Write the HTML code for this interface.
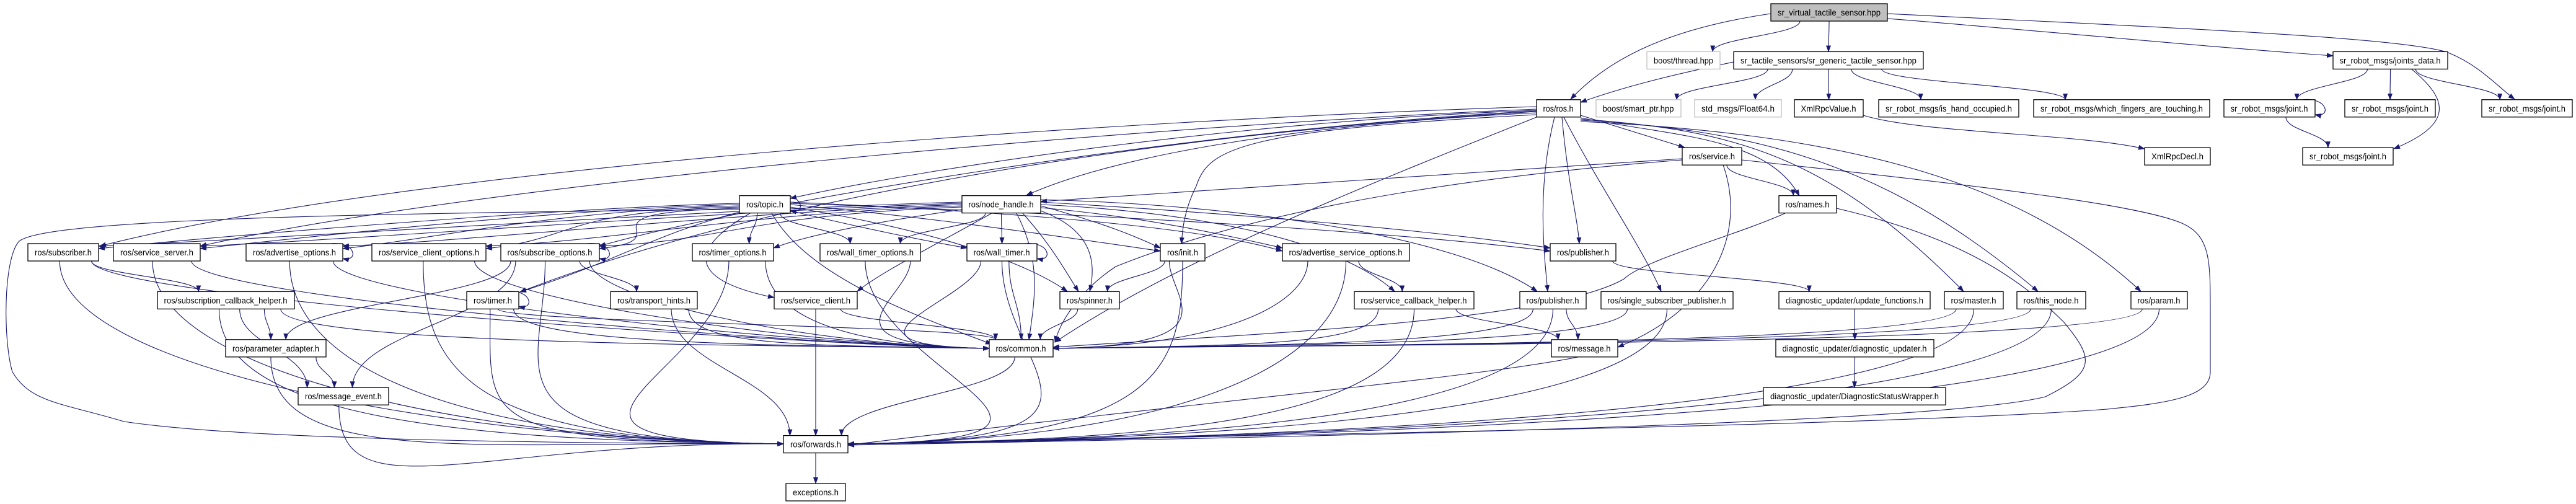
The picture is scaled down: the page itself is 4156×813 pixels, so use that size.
<!DOCTYPE html>
<html><head><meta charset="utf-8"><style>
html,body{margin:0;padding:0;background:#fff;width:4156px;height:813px;overflow:hidden}
svg{display:block}
.n rect{fill:#fff;stroke:#000;stroke-width:1.3}
.n.g rect{stroke:#bfbfbf}
.n.s rect{fill:#bfbfbf}
text{font-family:"Liberation Sans",sans-serif;font-size:13.5px;fill:#000}
path.e{fill:none;stroke:#191970;stroke-width:1.1}
</style></head><body>
<svg id="s" width="4156" height="813" viewBox="0 0 4156 813" xmlns="http://www.w3.org/2000/svg">
<defs><marker id="a" markerWidth="11" markerHeight="8" refX="10" refY="4" orient="auto" markerUnits="userSpaceOnUse"><path d="M0,0 L11,4 L0,8 z" fill="#191970"/></marker></defs>
<g id="E"></g>
<g id="N">
<g class="n s"><rect x="2857" y="6" width="188" height="28"/><text x="2951" y="25" text-anchor="middle">sr_virtual_tactile_sensor.hpp</text></g>
<g class="n g"><rect x="2657" y="83.4" width="118" height="28"/><text x="2716" y="102.4" text-anchor="middle">boost/thread.hpp</text></g>
<g class="n"><rect x="2797" y="83.4" width="306" height="28"/><text x="2950" y="102.4" text-anchor="middle">sr_tactile_sensors/sr_generic_tactile_sensor.hpp</text></g>
<g class="n"><rect x="3764" y="83.4" width="185" height="28"/><text x="3856" y="102.4" text-anchor="middle">sr_robot_msgs/joints_data.h</text></g>
<g class="n"><rect x="2479" y="160.8" width="71" height="28"/><text x="2514" y="179.8" text-anchor="middle">ros/ros.h</text></g>
<g class="n g"><rect x="2575" y="160.8" width="137" height="28"/><text x="2643" y="179.8" text-anchor="middle">boost/smart_ptr.hpp</text></g>
<g class="n g"><rect x="2734" y="160.8" width="140" height="28"/><text x="2804" y="179.8" text-anchor="middle">std_msgs/Float64.h</text></g>
<g class="n"><rect x="2895" y="160.8" width="111" height="28"/><text x="2950" y="179.8" text-anchor="middle">XmlRpcValue.h</text></g>
<g class="n"><rect x="3031" y="160.8" width="226" height="28"/><text x="3144" y="179.8" text-anchor="middle">sr_robot_msgs/is_hand_occupied.h</text></g>
<g class="n"><rect x="3281" y="160.8" width="284" height="28"/><text x="3423" y="179.8" text-anchor="middle">sr_robot_msgs/which_fingers_are_touching.h</text></g>
<g class="n"><rect x="3588" y="160.8" width="147" height="28"/><text x="3661" y="179.8" text-anchor="middle">sr_robot_msgs/joint.h</text></g>
<g class="n"><rect x="3783" y="160.8" width="146" height="28"/><text x="3856" y="179.8" text-anchor="middle">sr_robot_msgs/joint.h</text></g>
<g class="n"><rect x="4004" y="160.8" width="146" height="28"/><text x="4077" y="179.8" text-anchor="middle">sr_robot_msgs/joint.h</text></g>
<g class="n"><rect x="2714" y="238.2" width="96" height="28"/><text x="2762" y="257.2" text-anchor="middle">ros/service.h</text></g>
<g class="n"><rect x="3460" y="238.2" width="106" height="28"/><text x="3513" y="257.2" text-anchor="middle">XmlRpcDecl.h</text></g>
<g class="n"><rect x="3715" y="238.2" width="146" height="28"/><text x="3788" y="257.2" text-anchor="middle">sr_robot_msgs/joint.h</text></g>
<g class="n"><rect x="1193" y="315.6" width="82" height="28"/><text x="1234" y="334.6" text-anchor="middle">ros/topic.h</text></g>
<g class="n"><rect x="1552" y="315.6" width="127" height="28"/><text x="1615" y="334.6" text-anchor="middle">ros/node_handle.h</text></g>
<g class="n"><rect x="2870" y="315.6" width="93" height="28"/><text x="2916" y="334.6" text-anchor="middle">ros/names.h</text></g>
<g class="n"><rect x="45" y="393" width="114" height="28"/><text x="102" y="412" text-anchor="middle">ros/subscriber.h</text></g>
<g class="n"><rect x="183" y="393" width="140" height="28"/><text x="253" y="412" text-anchor="middle">ros/service_server.h</text></g>
<g class="n"><rect x="397" y="393" width="156" height="28"/><text x="475" y="412" text-anchor="middle">ros/advertise_options.h</text></g>
<g class="n"><rect x="600" y="393" width="184" height="28"/><text x="692" y="412" text-anchor="middle">ros/service_client_options.h</text></g>
<g class="n"><rect x="808" y="393" width="159" height="28"/><text x="887" y="412" text-anchor="middle">ros/subscribe_options.h</text></g>
<g class="n"><rect x="1117" y="393" width="131" height="28"/><text x="1182" y="412" text-anchor="middle">ros/timer_options.h</text></g>
<g class="n"><rect x="1323" y="393" width="162" height="28"/><text x="1404" y="412" text-anchor="middle">ros/wall_timer_options.h</text></g>
<g class="n"><rect x="1560" y="393" width="113" height="28"/><text x="1616" y="412" text-anchor="middle">ros/wall_timer.h</text></g>
<g class="n"><rect x="1872" y="393" width="72" height="28"/><text x="1908" y="412" text-anchor="middle">ros/init.h</text></g>
<g class="n"><rect x="2069" y="393" width="205" height="28"/><text x="2171" y="412" text-anchor="middle">ros/advertise_service_options.h</text></g>
<g class="n"><rect x="2501" y="393" width="106" height="28"/><text x="2554" y="412" text-anchor="middle">ros/publisher.h</text></g>
<g class="n"><rect x="254" y="470.4" width="221" height="28"/><text x="364" y="489.4" text-anchor="middle">ros/subscription_callback_helper.h</text></g>
<g class="n"><rect x="753" y="470.4" width="84" height="28"/><text x="795" y="489.4" text-anchor="middle">ros/timer.h</text></g>
<g class="n"><rect x="985" y="470.4" width="140" height="28"/><text x="1055" y="489.4" text-anchor="middle">ros/transport_hints.h</text></g>
<g class="n"><rect x="1249" y="470.4" width="134" height="28"/><text x="1316" y="489.4" text-anchor="middle">ros/service_client.h</text></g>
<g class="n"><rect x="1710" y="470.4" width="96" height="28"/><text x="1758" y="489.4" text-anchor="middle">ros/spinner.h</text></g>
<g class="n"><rect x="2185" y="470.4" width="193" height="28"/><text x="2281" y="489.4" text-anchor="middle">ros/service_callback_helper.h</text></g>
<g class="n"><rect x="2452" y="470.4" width="107" height="28"/><text x="2505" y="489.4" text-anchor="middle">ros/publisher.h</text></g>
<g class="n"><rect x="2583" y="470.4" width="213" height="28"/><text x="2689" y="489.4" text-anchor="middle">ros/single_subscriber_publisher.h</text></g>
<g class="n"><rect x="2870" y="470.4" width="244" height="28"/><text x="2992" y="489.4" text-anchor="middle">diagnostic_updater/update_functions.h</text></g>
<g class="n"><rect x="3137" y="470.4" width="95" height="28"/><text x="3184" y="489.4" text-anchor="middle">ros/master.h</text></g>
<g class="n"><rect x="3254" y="470.4" width="111" height="28"/><text x="3309" y="489.4" text-anchor="middle">ros/this_node.h</text></g>
<g class="n"><rect x="3438" y="470.4" width="91" height="28"/><text x="3483" y="489.4" text-anchor="middle">ros/param.h</text></g>
<g class="n"><rect x="364" y="547.8" width="162" height="28"/><text x="445" y="566.8" text-anchor="middle">ros/parameter_adapter.h</text></g>
<g class="n"><rect x="1596" y="547.8" width="103" height="28"/><text x="1647" y="566.8" text-anchor="middle">ros/common.h</text></g>
<g class="n"><rect x="2503" y="547.8" width="107" height="28"/><text x="2556" y="566.8" text-anchor="middle">ros/message.h</text></g>
<g class="n"><rect x="2865" y="547.8" width="255" height="28"/><text x="2992" y="566.8" text-anchor="middle">diagnostic_updater/diagnostic_updater.h</text></g>
<g class="n"><rect x="481" y="625.2" width="146" height="28"/><text x="554" y="644.2" text-anchor="middle">ros/message_event.h</text></g>
<g class="n"><rect x="2845" y="625.2" width="294" height="28"/><text x="2992" y="644.2" text-anchor="middle">diagnostic_updater/DiagnosticStatusWrapper.h</text></g>
<g class="n"><rect x="1264" y="702.6" width="104" height="28"/><text x="1316" y="721.6" text-anchor="middle">ros/forwards.h</text></g>
<g class="n"><rect x="1268" y="780" width="96" height="28"/><text x="1316" y="799" text-anchor="middle">exceptions.h</text></g>
</g>
</svg>
<script>
var R={};
document.querySelectorAll('#N g').forEach(function(g){var r=g.querySelector('rect'),t=g.querySelector('text');
var x=+r.getAttribute('x'),y=+r.getAttribute('y'),w=+r.getAttribute('width'),h=+r.getAttribute('height');
t.setAttribute('textLength',Math.max(10,w-22));t.setAttribute('lengthAdjust','spacingAndGlyphs');
var k=t.textContent;var nm=k;var i=2;while(R[nm]){nm=k+'#'+i;i++;}R[nm]={x:x,y:y,w:w,h:h};});
var E=document.getElementById('E'),out='';
function P(d){out+='<path class="e" d="'+d+'" marker-end="url(#a)"/>';}
function e(a,b,sx,dx,mode){var A=R[a],B=R[b];if(!A||!B)return;sx=sx==null?0.5:sx;dx=dx==null?0.5:dx;
var x1=A.x+A.w*sx,y1=A.y+A.h,x2,y2;
if(mode=='L'){x2=B.x;y2=B.y+B.h*dx;var k=Math.abs(y2-y1)*0.6+20;P('M'+x1+','+y1+' C'+x1+','+(y1+k)+' '+(x2-Math.abs(x2-x1)*0.4)+','+y2+' '+x2+','+y2);return;}
if(mode=='R'){x2=B.x+B.w;y2=B.y+B.h*dx;var k=Math.abs(y2-y1)*0.6+20;P('M'+x1+','+y1+' C'+x1+','+(y1+k)+' '+(x2+Math.abs(x2-x1)*0.4)+','+y2+' '+x2+','+y2);return;}
if(mode=='SL'){x1=A.x;y1=A.y+A.h*sx;}
if(mode=='SR'){x1=A.x+A.w;y1=A.y+A.h*sx;}
x2=B.x+B.w*dx;y2=B.y;var k=(y2-y1)*0.45;P('M'+x1+','+y1+' C'+x1+','+(y1+k)+' '+x2+','+(y2-k)+' '+x2+','+y2);}
function loop(a){var A=R[a];var r=A.x+A.w,t=A.y,b=A.y+A.h;P('M'+(r-20)+','+t+' C'+(r+22)+','+(t-4)+' '+(r+26)+','+(b+2)+' '+r+','+(b-4));}
// top
P('M2857,22 C2700,45 2600,90 2534,160');
e('sr_virtual_tactile_sensor.hpp','boost/thread.hpp',0.25,0.9);
e('sr_virtual_tactile_sensor.hpp','sr_tactile_sensors/sr_generic_tactile_sensor.hpp',0.5,0.5);
P('M3045,30 C3300,50 3550,75 3764,90');
P('M3045,22 C3500,45 3880,60 3950,85 C4000,105 4030,140 4057,160');
P('M2797,100 C2700,120 2620,140 2550,165');
e('sr_tactile_sensors/sr_generic_tactile_sensor.hpp','boost/smart_ptr.hpp',0.18,0.95);
e('sr_tactile_sensors/sr_generic_tactile_sensor.hpp','std_msgs/Float64.h',0.31,0.7);
e('sr_tactile_sensors/sr_generic_tactile_sensor.hpp','XmlRpcValue.h',0.5,0.5);
e('sr_tactile_sensors/sr_generic_tactile_sensor.hpp','sr_robot_msgs/is_hand_occupied.h',0.62,0.3);
e('sr_tactile_sensors/sr_generic_tactile_sensor.hpp','sr_robot_msgs/which_fingers_are_touching.h',0.78,0.18);
e('sr_robot_msgs/joints_data.h','sr_robot_msgs/joint.h',0.3,0.8);
e('sr_robot_msgs/joints_data.h','sr_robot_msgs/joint.h#2',0.5,0.5);
P('M3890,111 C3950,160 3960,200 3862,240');
e('sr_robot_msgs/joints_data.h','sr_robot_msgs/joint.h#3',0.72,0.2);
loop('sr_robot_msgs/joint.h');
e('sr_robot_msgs/joint.h','sr_robot_msgs/joint.h#4',0.68,0.28);
P('M3006,186 C3100,215 3350,215 3460,240');
// ros.h
P('M2479,172 C1900,190 700,260 161,397');
P('M2479,176 C1900,200 800,290 323,397');
P('M2479,178 C2000,195 1500,270 1275,320');
P('M2479,182 C2100,200 1800,250 1656,315');
P('M2479,185 C2000,210 1950,240 1930,300 C1910,340 1908,370 1906,393');
P('M2479,189 C2200,300 1900,420 1702,552');
P('M2520,189 C2530,300 2545,350 2548,393');
P('M2508,189 C2480,300 2490,400 2497,470');
P('M2523,189 C2580,300 2650,400 2680,470');
P('M2550,186 L2718,238');
P('M2550,190 C2700,220 2850,220 2903,316');
P('M2550,192 C2800,210 2950,250 3168,470');
P('M2550,194 C2850,210 3050,270 3288,470');
P('M2550,196 C2950,215 3250,280 3454,470');
P('M2479,180 C1800,220 1200,330 839,471');
P('M2479,179 C1900,210 1200,330 967,397');
// service.h
P('M2714,256 C2300,285 1900,310 1679,325');
P('M2714,258 C2300,290 2000,350 1800,430 C1740,470 1710,520 1702,552');
e('ros/service.h','ros/names.h',0.75,0.25);
P('M2780,266 C2820,380 2760,500 2610,560');
P('M2810,258 C3200,300 3450,330 3520,360 C3566,380 3566,420 3566,500 L3566,600 C3566,640 3500,650 3400,660 C3000,690 1800,705 1368,716');
// names
P('M2880,344 C2800,380 2650,420 2620,450 C2500,520 2000,540 1699,560');
P('M2963,336 C3150,380 3250,440 3330,520 C3380,580 3380,600 3300,640 C3100,690 1800,710 1368,718');
// node_handle
var NH='ros/node_handle.h';
['ros/subscriber.h','ros/service_server.h','ros/advertise_options.h','ros/service_client_options.h','ros/subscribe_options.h'].forEach(function(t,i){var B=R[t];P('M1552,'+(326+i*2)+' C1200,'+(335+i*3)+' '+(B.x+B.w+200)+','+(390)+' '+(B.x+B.w)+','+(B.y+4));});
P('M1552,338 C1400,360 1300,380 1248,400');
e(NH,'ros/wall_timer_options.h',0.3,0.8,'');
e(NH,'ros/wall_timer.h',0.5,0.5);
P('M1679,332 C1780,360 1830,380 1872,400');
P('M1679,335 C1850,350 1980,380 2069,400');
P('M1679,326 C2000,345 2300,370 2501,400');
P('M1679,322 C2000,330 2350,380 2480,470');
P('M1679,340 C1760,370 1770,420 1758,470');
P('M1650,344 C1700,400 1720,440 1740,470');
P('M1640,344 C1680,420 1670,480 1660,548');
P('M1600,344 C1500,400 1420,440 1383,470');
P('M1679,330 C1900,340 2150,380 2250,470');
// topic
loop('ros/topic.h');
['ros/subscriber.h','ros/service_server.h','ros/advertise_options.h','ros/service_client_options.h','ros/subscribe_options.h'].forEach(function(t,i){var B=R[t];P('M1193,'+(328+i*2)+' C900,'+(335+i*2)+' '+(B.x+B.w+150)+','+(385)+' '+(B.x+B.w)+','+(B.y+8));});
e('ros/topic.h','ros/timer_options.h',0.35,0.7);
e('ros/topic.h','ros/wall_timer_options.h',0.8,0.3);
P('M1210,344 C1080,420 1150,460 1249,480');
P('M1245,344 C1300,440 1450,500 1600,555');
P('M1193,338 C400,345 60,360 30,390 C5,420 5,550 20,600 C50,650 100,650 200,680 C400,710 900,715 1264,716');
P('M1275,330 C1500,350 1700,380 1872,405');
P('M1275,334 C1500,370 1650,420 1722,470');
P('M1275,326 C1700,345 1950,370 2069,405');
P('M1275,328 C1900,350 2300,380 2501,405');
P('M1275,340 C1400,370 1500,390 1560,400');
P('M1193,342 C1050,380 1000,420 839,471');
// row6 sources
var F='ros/forwards.h';
function toF(s,sx){var A=R[s];var x1=A.x+A.w*(sx||0.5),y1=A.y+A.h;var B=R[F];var left=x1<1300;var x2=left?B.x:B.x+B.w;var y2=716;P('M'+x1+','+y1+' C'+x1+','+(y1+180)+' '+(left?x2-500:x2+500)+','+(y2-5)+' '+x2+','+y2);}
function toC(s,sx){var A=R[s];var x1=A.x+A.w*(sx||0.5),y1=A.y+A.h;var B=R['ros/common.h'];var left=x1<1640;var x2=left?B.x:B.x+B.w;var y2=562;P('M'+x1+','+y1+' C'+x1+','+(y1+60)+' '+(left?x2-300:x2+300)+','+(y2-5)+' '+x2+','+y2);}
['ros/subscriber.h','ros/service_server.h','ros/advertise_options.h','ros/service_client_options.h','ros/subscribe_options.h','ros/timer_options.h','ros/wall_timer_options.h','ros/subscription_callback_helper.h','ros/timer.h','ros/message_event.h','ros/parameter_adapter.h'].forEach(function(s){toF(s,0.45);});
['ros/subscriber.h','ros/service_server.h','ros/advertise_options.h','ros/service_client_options.h','ros/subscribe_options.h','ros/subscription_callback_helper.h','ros/timer.h','ros/transport_hints.h','ros/timer_options.h','ros/wall_timer_options.h'].forEach(function(s){toC(s,0.9);});
['ros/advertise_service_options.h','ros/service_callback_helper.h','ros/publisher.h#2','ros/single_subscriber_publisher.h','ros/master.h','ros/this_node.h','ros/param.h','ros/init.h','ros/wall_timer.h'].forEach(function(s){toF(s,0.5);toC(s,0.2);});
loop('ros/advertise_options.h');loop('ros/subscribe_options.h');loop('ros/timer.h');loop('ros/wall_timer.h');
e('ros/subscriber.h','ros/subscription_callback_helper.h',0.9,0.3);
e('ros/subscribe_options.h','ros/parameter_adapter.h',0.1,0.6);
e('ros/subscribe_options.h','ros/message_event.h',0.15,0.6);
e('ros/subscribe_options.h','ros/transport_hints.h',0.8,0.3);
e('ros/subscription_callback_helper.h','ros/parameter_adapter.h',0.78,0.45);
e('ros/subscription_callback_helper.h','ros/message_event.h',0.6,0.1);
e('ros/parameter_adapter.h','ros/message_event.h',0.9,0.4);
e('ros/transport_hints.h',F,0.7,0.1);
e('ros/service_client.h',F,0.5,0.5);
e('ros/common.h',F,0.4,0.9);
e(F,'exceptions.h',0.5,0.5);
e('ros/init.h','ros/spinner.h',0.1,0.8);
e('ros/spinner.h','ros/common.h',0.3,0.8);
e('ros/wall_timer.h','ros/common.h',0.6,0.5);
e('ros/timer.h','ros/common.h',0.6,0.1);
e('ros/advertise_service_options.h','ros/service_callback_helper.h',0.6,0.4);
e('ros/service_callback_helper.h','ros/message.h',0.85,0.1);
e('ros/publisher.h#2','ros/message.h',0.7,0.4);
e('ros/publisher.h','diagnostic_updater/update_functions.h',0.95,0.2);
e('ros/service_client.h','ros/common.h',0.8,0.1);
e('diagnostic_updater/update_functions.h','diagnostic_updater/diagnostic_updater.h',0.5,0.5);
e('diagnostic_updater/diagnostic_updater.h','diagnostic_updater/DiagnosticStatusWrapper.h',0.5,0.5);
P('M2610,560 C2500,600 2000,640 1368,718');
E.innerHTML=out;
</script>
</body></html>
